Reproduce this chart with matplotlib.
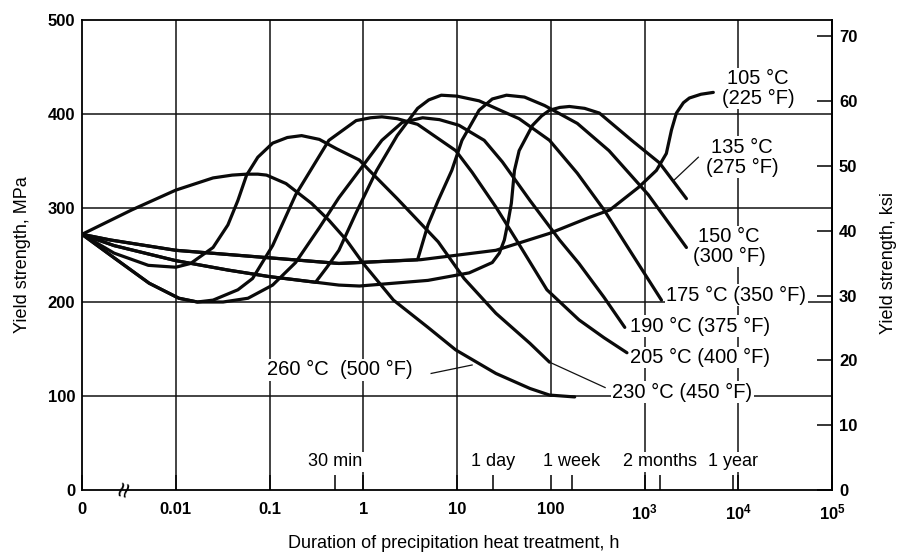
import numpy as np
import matplotlib
matplotlib.use("Agg")
import matplotlib.pyplot as plt
from matplotlib.ticker import FixedLocator

plt.rcParams['font.family'] = ['Liberation Sans', 'DejaVu Sans']
plt.rcParams['mathtext.fontset'] = 'custom'
plt.rcParams['mathtext.rm'] = 'Liberation Sans'
plt.rcParams['mathtext.bf'] = 'Liberation Sans:bold'

# ageing curves: time in hours, yield strength in MPa
h_105 = [0, 0.002, 0.01, 0.1, 0.55, 4.1, 26, 97, 258, 428, 865, 1340, 1710, 1940, 2190, 2600, 3010, 4000, 5420]
s_105 = [272, 266, 255, 247, 241, 245, 255, 273, 290, 298, 322, 340, 358, 383, 401, 412, 417, 421, 423]

h_135 = [0, 0.0022, 0.01, 0.036, 0.1, 0.55, 0.91, 4.9, 13.5, 23.8, 28.3, 32, 35.3, 38, 41, 46, 64, 80, 97, 125, 158, 230, 330, 730, 1445, 2800]
s_135 = [272, 260, 244, 234, 227, 218, 217, 223, 231, 242, 252, 266, 287, 305, 340, 361, 388, 398, 404, 407, 408, 406, 401, 372, 348, 310]

h_150 = [0, 0.002, 0.01, 0.1, 0.55, 3.8, 4.9, 6.3, 8.8, 11.3, 17.2, 23.8, 33.7, 52.5, 86, 192, 418, 1100, 2800]
s_150 = [272, 266, 255, 247, 241, 245, 282, 308, 340, 372, 404, 416, 420, 418, 409, 390, 361, 314, 258]

h_175 = [0, 0.0022, 0.01, 0.036, 0.1, 0.31, 0.41, 0.55, 0.84, 1.39, 2.3, 3.8, 5.0, 6.8, 10, 17.2, 46, 97, 192, 370, 695, 1517]
s_175 = [272, 260, 244, 234, 227, 221, 237, 255, 295, 340, 377, 406, 415, 420, 419, 414, 395, 372, 337, 298, 255, 202]

h_190 = [0, 0.0022, 0.0052, 0.0108, 0.017, 0.032, 0.059, 0.108, 0.19, 0.34, 0.55, 0.91, 1.58, 2.6, 4.3, 6.5, 10.5, 19.5, 30.5, 60, 124, 200, 370, 616]
s_190 = [272, 247, 220, 204, 200, 200, 204, 218, 242, 279, 311, 340, 372, 391, 396, 394, 388, 372, 349, 308, 266, 241, 205, 173]

h_205 = [0, 0.0022, 0.0052, 0.0108, 0.017, 0.025, 0.046, 0.066, 0.108, 0.19, 0.43, 0.84, 1.2, 1.58, 2.3, 3.8, 9.7, 14.5, 26, 43, 91, 200, 370, 650]
s_205 = [272, 247, 220, 204, 200, 202, 213, 225, 260, 314, 372, 393, 396, 397, 395, 389, 361, 338, 301, 266, 213, 181, 162, 146]

h_230 = [0, 0.0022, 0.0051, 0.01, 0.0144, 0.025, 0.036, 0.046, 0.057, 0.075, 0.108, 0.155, 0.22, 0.34, 0.52, 0.91, 1.16, 2.3, 6.3, 11.9, 26, 60, 97]
s_230 = [272, 252, 239, 237, 241, 258, 282, 308, 335, 354, 369, 375, 377, 373, 363, 351, 340, 310, 264, 225, 188, 156, 136]

h_260 = [0, 0.0034, 0.01, 0.025, 0.04, 0.057, 0.075, 0.093, 0.15, 0.28, 0.43, 0.66, 1.0, 2.1, 4.9, 9.7, 26, 60, 97, 180]
s_260 = [272, 298, 319, 332, 335, 336, 336, 335, 326, 305, 287, 266, 241, 202, 173, 149, 124, 108, 101, 99]

# leader lines from labels to curves
lead_135_h = [3750, 2035]
lead_135_s = [354, 329]
lead_230_h = [380, 97]
lead_230_s = [109, 136]
lead_260_h = [5.3, 14.5]
lead_260_s = [124, 133]

# curve labels: text, hours, MPa, alignment
curve_labels = ["105 °C\n(225 °F)", "135 °C\n(275 °F)", "150 °C\n(300 °F)",
                "175 °C (350 °F)", "190 °C (375 °F)", "205 °C (400 °F)",
                "230 °C (450 °F)", "260 °C  (500 °F)"]
label_h = [16300, 11000, 8000, 1710, 695, 695, 450, 0.095]
label_s = [427, 354, 259, 207, 174, 141, 104, 128]
label_ha = ['center', 'center', 'center', 'left', 'left', 'left', 'left', 'left']

# time marks on the bottom axis
time_names = ["30 min", "1 day", "1 week", "2 months", "1 year"]
time_hours = [0.5, 24, 168, 1460, 8760]

x_ticks = [0, 0.01, 0.1, 1, 10, 100, 1000, 1e4, 1e5]
x_ticklabels = ["0", "0.01", "0.1", "1", "10", "100",
                r"$\mathbf{10^3}$", r"$\mathbf{10^4}$", r"$\mathbf{10^5}$"]
y_ticks = [0, 100, 200, 300, 400, 500]
ksi_ticks = [0, 10, 20, 30, 40, 50, 60, 70]


def fwd(h):
    h = np.asarray(h, dtype=float)
    safe = np.where(h > 0, h, 1.0)
    return np.where(h > 0, np.log10(safe), -3.0)


def inv(u):
    return 10.0 ** np.asarray(u, dtype=float)


fig = plt.figure(figsize=(8.99, 5.58), dpi=100)
ax = fig.add_axes([82 / 899, 68 / 558, 750 / 899, 470 / 558])
ax.set_xscale('function', functions=(fwd, inv))
ax.set_xlim(0, 1e5)
ax.set_ylim(0, 500)

# grid
for g in [0.01, 0.1, 1, 10, 1000, 1e4]:
    ax.axvline(g, color='#111111', lw=1.1, zorder=1)
ax.axvline(100, ymin=0.2, color='#111111', lw=1.1, zorder=1)
for g in [100, 200, 300, 400]:
    ax.axhline(g, color='#111111', lw=1.1, zorder=1)

curves = [(h_105, s_105), (h_135, s_135), (h_150, s_150), (h_175, s_175),
          (h_190, s_190), (h_205, s_205), (h_230, s_230), (h_260, s_260)]
for hh, ss in curves:
    ax.plot(hh, ss, color='#0a0a0a', lw=2.3, solid_capstyle='round',
            solid_joinstyle='round', zorder=3)

for hh, ss in [(lead_135_h, lead_135_s), (lead_230_h, lead_230_s), (lead_260_h, lead_260_s)]:
    ax.plot(hh, ss, color='#111111', lw=0.9, zorder=3)

box = dict(facecolor='white', edgecolor='none', pad=1.0)
for txt, hx, sy, ha in zip(curve_labels, label_h, label_s, label_ha):
    ax.text(hx, sy, txt, ha=ha, va='center', fontsize=14.5, linespacing=1.05,
            bbox=box, zorder=2)

for name, hx in zip(time_names, time_hours):
    ax.text(hx, 30, name, ha='center', va='center', fontsize=13, bbox=box, zorder=2)

# axis break mark
ax.text(0.003, 0, '≈', rotation=75, fontsize=20, ha='center', va='center',
        zorder=5, clip_on=False)

ax.xaxis.set_major_locator(FixedLocator(x_ticks))
ax.set_xticklabels(x_ticklabels, fontweight='bold', fontsize=12)
ax.xaxis.set_minor_locator(FixedLocator(time_hours))
ax.tick_params(axis='x', which='major', direction='in', length=11, width=1.1, pad=9)
ax.tick_params(axis='x', which='minor', direction='in', length=11, width=1.1)

ax.set_yticks(y_ticks)
ax.set_yticklabels([str(v) for v in y_ticks], fontweight='bold', fontsize=12)
ax.tick_params(axis='y', length=0, pad=5)

for sp in ax.spines.values():
    sp.set_linewidth(1.3)

sec = ax.secondary_yaxis('right', functions=(lambda m: np.asarray(m) / 6.895,
                                             lambda k: np.asarray(k) * 6.895))
sec.set_yticks(ksi_ticks, labels=[str(v) for v in ksi_ticks], fontweight='bold', fontsize=12)
sec.tick_params(direction='in', length=11, width=1.1, pad=5)
sec.spines['right'].set_linewidth(1.3)

ax.text(1.075, 0.483, "Yield strength, ksi", transform=ax.transAxes, rotation=90,
        ha='center', va='center', fontsize=13)
ax.set_ylabel("Yield strength, MPa", fontsize=13)
ax.yaxis.set_label_coords(-0.068, 0.5)
ax.set_xlabel("Duration of precipitation heat treatment, h", fontsize=13)
ax.xaxis.set_label_coords(0.495, -0.096)

fig.savefig("out.png", dpi=100)
